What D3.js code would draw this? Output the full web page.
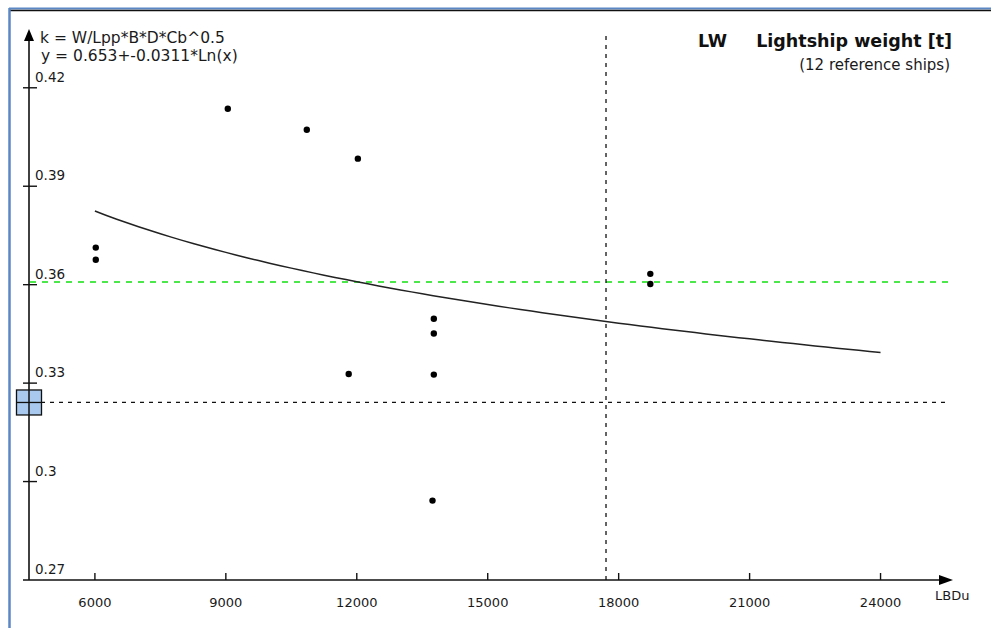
<!DOCTYPE html>
<html>
<head>
<meta charset="utf-8">
<script src="https://cdn.jsdelivr.net/npm/d3@7"></script>
<style>
  html, body { margin: 0; padding: 0; background: #fff; }
  svg { display: block; font-family: "DejaVu Sans", Tahoma, sans-serif; }
</style>
</head>
<body>
<div id="chart"></div>
<script>
// Reference ships: LBDu vs k
var shipX = [6020, 6020, 9045, 10855, 12025, 11815, 13765, 13765, 13765, 13735, 18725, 18725];
var shipK = [0.3713, 0.3676, 0.4136, 0.4072, 0.3984, 0.3328, 0.3496, 0.3451, 0.3326, 0.2942, 0.3633, 0.3602];

// regression y = a + b*Ln(x), as printed on the chart
var fitCoef = [0.653, -0.0311];
var fitRange = [6000, 24000];

var xTicks = [6000, 9000, 12000, 15000, 18000, 21000, 24000];
var yTicks = [0.27, 0.30, 0.33, 0.36, 0.39, 0.42];

var greenLevel = 0.3608;    // green dashed reference
var currentK = 0.3241;      // black dashed + blue marker
var currentX = 17710;       // vertical dashed

var labels = {
    eq1: 'k = W/Lpp*B*D*Cb^0.5',
    eq2: 'y = 0.653+-0.0311*Ln(x)',
    code: 'LW',
    title: 'Lightship weight [t]',
    sub: '(12 reference ships)',
    xName: 'LBDu'
};

var Chart = (function(){
    var W = 991, H = 628;
    var svg = d3.select('#chart').append('svg')
        .attr('width', W).attr('height', H);

    var x = d3.scaleLinear().domain([4490, 25660]).range([29, 953]);
    var y = d3.scaleLinear().domain([0.27, 0.437]).range([580, 32]);
    var fmtY = function(v){ return String(+v.toFixed(2)); };

    // window frame
    svg.append('line').attr('x1', 9).attr('x2', W).attr('y1', 8.5).attr('y2', 8.5)
        .attr('stroke', '#5b87c5').attr('stroke-width', 2);
    svg.append('line').attr('x1', 10).attr('x2', W).attr('y1', 10.5).attr('y2', 10.5)
        .attr('stroke', '#111').attr('stroke-width', 1.5);
    svg.append('line').attr('x1', 9.5).attr('x2', 9.5).attr('y1', 8).attr('y2', H)
        .attr('stroke', '#5b87c5').attr('stroke-width', 2.5);

    // reference lines
    svg.append('line')
        .attr('x1', x.range()[0] + 1).attr('x2', 948)
        .attr('y1', y(greenLevel)).attr('y2', y(greenLevel))
        .attr('stroke', '#10e010').attr('stroke-width', 1.5)
        .attr('stroke-dasharray', '6,6');
    svg.append('line')
        .attr('x1', 41).attr('x2', 948)
        .attr('y1', y(currentK)).attr('y2', y(currentK))
        .attr('stroke', '#111').attr('stroke-width', 1.3)
        .attr('stroke-dasharray', '4,5');
    svg.append('line')
        .attr('x1', x(currentX)).attr('x2', x(currentX))
        .attr('y1', 36).attr('y2', y(0.27))
        .attr('stroke', '#111').attr('stroke-width', 1.3)
        .attr('stroke-dasharray', '4,5');

    // axes
    var ax = svg.append('g').attr('stroke', '#111');
    ax.append('line').attr('x1', 23).attr('x2', 942)
        .attr('y1', y(0.27)).attr('y2', y(0.27)).attr('stroke-width', 1.6);
    ax.append('line').attr('x1', x.range()[0]).attr('x2', x.range()[0])
        .attr('y1', 40).attr('y2', y(0.27)).attr('stroke-width', 1.6);
    svg.append('path').attr('fill', '#000')
        .attr('d', 'M' + (x.range()[1]) + ',' + y(0.27) + 'l-14,-5v10z');
    svg.append('path').attr('fill', '#000')
        .attr('d', 'M' + x.range()[0] + ',' + 29 + 'l-5,12h10z');

    // x ticks
    var xt = svg.append('g').selectAll('g').data(xTicks).enter().append('g')
        .attr('transform', function(d){ return 'translate(' + x(d) + ',0)'; });
    xt.append('line').attr('y1', y(0.27) - 7).attr('y2', y(0.27))
        .attr('stroke', '#111').attr('stroke-width', 1.4);
    xt.append('text').attr('y', 607).attr('text-anchor', 'middle')
        .attr('font-size', 13).attr('fill', '#1a1a1a')
        .text(function(d){ return d; });

    // y ticks
    var yt = svg.append('g').selectAll('g').data(yTicks).enter().append('g')
        .attr('transform', function(d){ return 'translate(0,' + y(d) + ')'; });
    yt.append('line').attr('x1', 23).attr('x2', 37)
        .attr('stroke', '#111').attr('stroke-width', 1.4)
        .style('display', function(d){ return d === 0.27 ? 'none' : null; });
    yt.append('text').attr('x', 35).attr('y', -6)
        .attr('font-size', 13.5).attr('fill', '#1a1a1a')
        .text(fmtY);

    svg.append('text').attr('x', 935).attr('y', 600)
        .attr('font-size', 13).attr('fill', '#1a1a1a').text(labels.xName);

    // fitted curve
    var fitX = d3.range(fitRange[0], fitRange[1] + 1, 250);
    var line = d3.line()
        .x(function(d){ return x(d); })
        .y(function(d){ return y(fitCoef[0] + fitCoef[1] * Math.log(d)); });
    svg.append('path').datum(fitX)
        .attr('d', line).attr('fill', 'none')
        .attr('stroke', '#222').attr('stroke-width', 1.5);

    // ships
    svg.append('g').selectAll('circle').data(shipX).enter().append('circle')
        .attr('cx', function(d){ return x(d); })
        .attr('cy', function(d, i){ return y(shipK[i]); })
        .attr('r', 3.2).attr('fill', '#000');

    // blue marker on the y axis
    var cy = y(currentK), cx = x.range()[0];
    svg.append('rect').attr('x', cx - 12.5).attr('y', cy - 12.5)
        .attr('width', 25).attr('height', 25)
        .attr('fill', '#a9c9ee').attr('stroke', '#111').attr('stroke-width', 1.3);
    svg.append('line').attr('x1', cx - 12.5).attr('x2', cx + 12.5)
        .attr('y1', cy).attr('y2', cy).attr('stroke', '#111').attr('stroke-width', 1.3);
    svg.append('line').attr('x1', cx).attr('x2', cx)
        .attr('y1', cy - 12.5).attr('y2', cy + 12.5).attr('stroke', '#111').attr('stroke-width', 1.5);

    // texts
    svg.append('text').attr('x', 40).attr('y', 43)
        .attr('font-size', 15.5).attr('fill', '#1a1a1a').text(labels.eq1);
    svg.append('text').attr('x', 41).attr('y', 61)
        .attr('font-size', 15.5).attr('fill', '#1a1a1a').text(labels.eq2);
    svg.append('text').attr('x', 698).attr('y', 47)
        .attr('font-size', 17.5).attr('font-weight', 'bold').attr('fill', '#111')
        .text(labels.code);
    svg.append('text').attr('x', 952).attr('y', 47).attr('text-anchor', 'end')
        .attr('font-size', 17.5).attr('font-weight', 'bold').attr('fill', '#111')
        .text(labels.title);
    svg.append('text').attr('x', 950).attr('y', 70).attr('text-anchor', 'end')
        .attr('font-size', 15).attr('fill', '#1a1a1a')
        .text(labels.sub);

    return { svg: svg, x: x, y: y };
}());
</script>
</body>
</html>
